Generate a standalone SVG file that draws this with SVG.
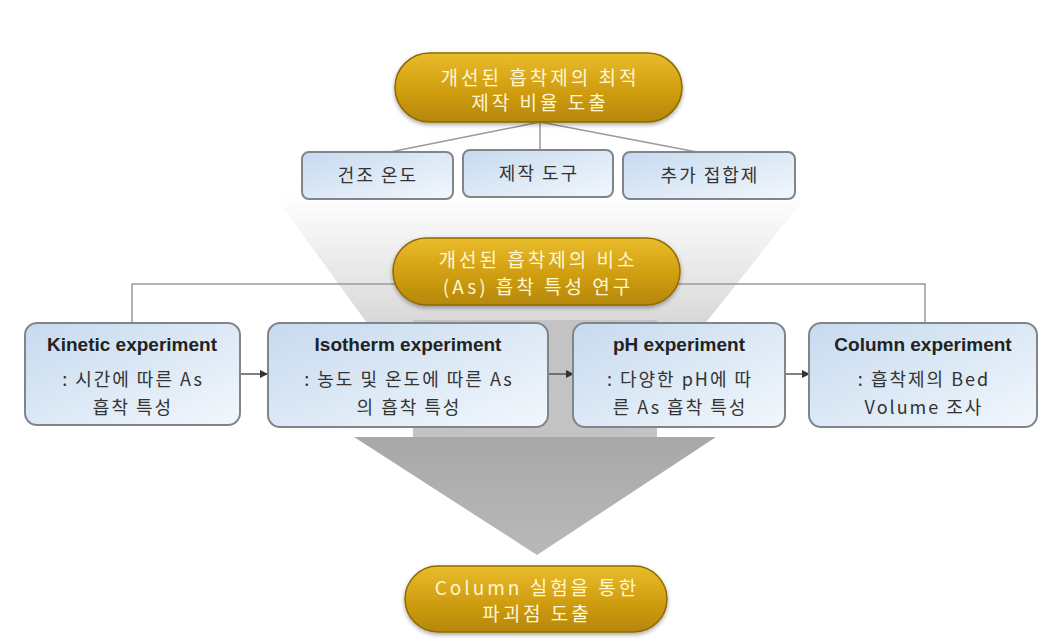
<svg xmlns="http://www.w3.org/2000/svg" width="1063" height="643" viewBox="0 0 1063 643">
<defs>
<linearGradient id="gold" x1="0" y1="0" x2="0" y2="1">
<stop offset="0" stop-color="#E9BC2C"/>
<stop offset="0.5" stop-color="#D2A012"/>
<stop offset="1" stop-color="#B5870A"/>
</linearGradient>
<linearGradient id="blue" x1="0" y1="0" x2="1" y2="1">
<stop offset="0" stop-color="#c6daef"/>
<stop offset="1" stop-color="#f2f7fc"/>
</linearGradient>
<linearGradient id="funnel" x1="0" y1="0" x2="0" y2="1">
<stop offset="0" stop-color="#ffffff"/>
<stop offset="1" stop-color="#d6d6d6"/>
</linearGradient>
<linearGradient id="head" x1="0" y1="0" x2="0" y2="1">
<stop offset="0" stop-color="#a8a8a8"/>
<stop offset="1" stop-color="#b9b9b9"/>
</linearGradient>
<filter id="sh" x="-10%" y="-20%" width="120%" height="150%">
<feDropShadow dx="0" dy="2" stdDeviation="2" flood-color="#000" flood-opacity="0.35"/>
</filter>
<marker id="arr" markerWidth="8" markerHeight="8" refX="7" refY="4" orient="auto" markerUnits="userSpaceOnUse">
<path d="M0,0 L8,4 L0,8 Z" fill="#333"/>
</marker>
<style>
.pill{fill:url(#gold);stroke:#8f6a00;stroke-width:1.5;filter:url(#sh)}
.pt{font-family:"Noto Sans CJK KR","Liberation Sans",sans-serif;font-size:19px;letter-spacing:3px;fill:#FFF6D6;text-anchor:middle}
.box{fill:url(#blue);stroke:#80858c;stroke-width:2}
.ttl{font-family:"Liberation Sans",sans-serif;font-size:19px;font-weight:bold;fill:#222;text-anchor:middle}
.st{font-family:"Noto Sans CJK KR","Liberation Sans",sans-serif;font-size:18px;letter-spacing:2px;fill:#333;text-anchor:middle}
.ln{stroke:#9a9a9a;stroke-width:1.5;fill:none}
.ar{stroke:#555;stroke-width:1.5;fill:none;marker-end:url(#arr)}
</style>
</defs>
<rect width="1063" height="643" fill="#fff"/>
<g id="background-arrow">
<polygon points="274,195 807,195 700,330 372,330" fill="url(#funnel)"/>
<rect x="413" y="320" width="244" height="118" fill="#c3c3c3"/>
<polygon points="354,437 716,437 537,555" fill="url(#head)"/>
</g>
<g id="connectors">
<line class="ln" x1="540" y1="122" x2="390" y2="152"/>
<line class="ln" x1="540" y1="122" x2="540" y2="151"/>
<line class="ln" x1="540" y1="122" x2="697" y2="152"/>
<polyline class="ln" points="132,323 132,284 925,284 925,323"/>
<line class="ar" x1="241" y1="374" x2="267" y2="374"/>
<line class="ar" x1="549" y1="374" x2="573" y2="374"/>
<line class="ar" x1="786" y1="374" x2="809" y2="374"/>
</g>
<g id="goal-top">
<rect class="pill" x="395" y="53" width="287" height="69" rx="34.5"/>
<text class="pt" x="540" y="85">개선된 흡착제의 최적</text>
<text class="pt" x="540" y="110">제작 비율 도출</text>
</g>
<g id="factor-1">
<rect class="box" x="302" y="152" width="151" height="47" rx="7"/>
<text class="st" x="378" y="182">건조 온도</text>
</g>
<g id="factor-2">
<rect class="box" x="463" y="150" width="150" height="47" rx="7"/>
<text class="st" x="539" y="180">제작 도구</text>
</g>
<g id="factor-3">
<rect class="box" x="623" y="152" width="172" height="47" rx="7"/>
<text class="st" x="710" y="182">추가 접합제</text>
</g>
<g id="goal-middle">
<rect class="pill" x="393" y="238" width="287" height="67" rx="33.5"/>
<text class="pt" x="538" y="267">개선된 흡착제의 비소</text>
<text class="pt" x="538" y="294">(As) 흡착 특성 연구</text>
</g>
<g id="kinetic">
<rect class="box" x="25" y="323" width="215" height="102" rx="12"/>
<text class="ttl" x="132" y="351">Kinetic experiment</text>
<text class="st" x="133" y="386">: 시간에 따른 As</text>
<text class="st" x="133" y="414">흡착 특성</text>
</g>
<g id="isotherm">
<rect class="box" x="268" y="323" width="280" height="104" rx="12"/>
<text class="ttl" x="408" y="351">Isotherm experiment</text>
<text class="st" x="409" y="386">: 농도 및 온도에 따른 As</text>
<text class="st" x="409" y="414">의 흡착 특성</text>
</g>
<g id="ph">
<rect class="box" x="573" y="323" width="212" height="104" rx="12"/>
<text class="ttl" x="679" y="351">pH experiment</text>
<text class="st" x="680" y="386">: 다양한 pH에  따</text>
<text class="st" x="680" y="414">른 As 흡착 특성</text>
</g>
<g id="column">
<rect class="box" x="809" y="323" width="228" height="104" rx="12"/>
<text class="ttl" x="923" y="351">Column experiment</text>
<text class="st" x="924" y="386">: 흡착제의 Bed</text>
<text class="st" x="924" y="414">Volume  조사</text>
</g>
<g id="goal-bottom">
<rect class="pill" x="405" y="566" width="262" height="66" rx="33"/>
<text class="pt" x="537" y="595">Column 실험을 통한</text>
<text class="pt" x="537" y="621">파괴점 도출</text>
</g>
</svg>
